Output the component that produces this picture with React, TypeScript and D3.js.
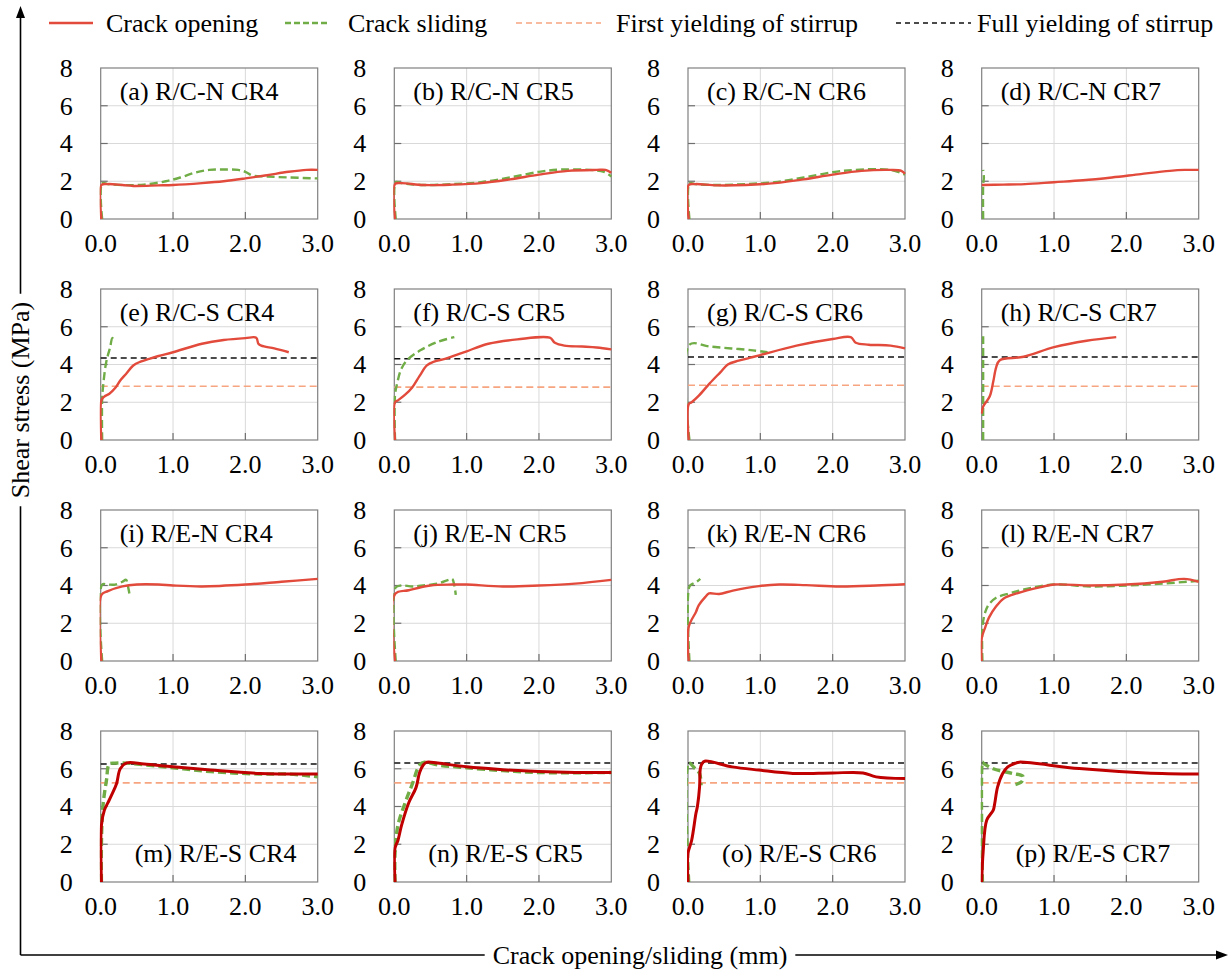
import React, { useEffect, useRef } from "react";
import * as d3 from "d3";

type P = [number, number];

const panelLabels = [
  "(a) R/C-N CR4", "(b) R/C-N CR5", "(c) R/C-N CR6", "(d) R/C-N CR7",
  "(e) R/C-S CR4", "(f) R/C-S CR5", "(g) R/C-S CR6", "(h) R/C-S CR7",
  "(i) R/E-N CR4", "(j) R/E-N CR5", "(k) R/E-N CR6", "(l) R/E-N CR7",
  "(m) R/E-S CR4", "(n) R/E-S CR5", "(o) R/E-S CR6", "(p) R/E-S CR7",
];

const xTicks = [0, 1, 2, 3];
const yTicks = [0, 2, 4, 6, 8];
const xTickLabels = ["0.0", "1.0", "2.0", "3.0"];
const yTickLabels = ["0", "2", "4", "6", "8"];

const legendLabels = ["Crack opening", "Crack sliding", "First yielding of stirrup", "Full yielding of stirrup"];

// yielding stress levels (MPa) per panel, null = not shown
const firstYield: (number | null)[] = [null, null, null, null, 2.85, 2.8, 2.9, 2.85, null, null, null, null, 5.25, 5.25, 5.25, 5.25];
const fullYield: (number | null)[] = [null, null, null, null, 4.35, 4.3, 4.4, 4.4, null, null, null, null, 6.25, 6.3, 6.3, 6.3];

const openingA: P[] = [[0.01,0],[0.01,1.8],[0.1,1.85],[0.3,1.8],[0.45,1.75],[0.8,1.78],[1.0,1.8],[1.4,1.9],[1.7,2.0],[2.0,2.15],[2.3,2.32],[2.6,2.5],[2.85,2.6],[3.0,2.6]];
const slidingA: P[] = [[0.02,0],[0.02,1.9],[0.1,1.85],[0.3,1.8],[0.6,1.82],[0.9,2.0],[1.1,2.2],[1.3,2.45],[1.5,2.6],[1.7,2.62],[1.9,2.6],[2.0,2.5],[2.1,2.3],[2.3,2.25],[2.6,2.2],[3.0,2.15]];
const openingB: P[] = [[0.01,0],[0.01,1.85],[0.1,1.9],[0.4,1.8],[0.8,1.82],[1.2,1.9],[1.6,2.1],[2.0,2.35],[2.4,2.55],[2.8,2.6],[2.92,2.6],[3.0,2.45]];
const slidingB: P[] = [[0.02,0],[0.02,1.95],[0.1,1.9],[0.4,1.8],[0.8,1.85],[1.2,1.95],[1.6,2.2],[2.0,2.5],[2.3,2.62],[2.7,2.6],[2.9,2.5],[3.0,2.25]];
const openingC: P[] = [[0.01,0],[0.01,1.8],[0.1,1.85],[0.4,1.78],[0.8,1.8],[1.2,1.9],[1.6,2.1],[2.0,2.35],[2.4,2.55],[2.8,2.6],[2.95,2.55],[3.0,2.4]];
const slidingC: P[] = [[0.02,0],[0.02,1.9],[0.1,1.85],[0.4,1.8],[0.8,1.85],[1.2,1.95],[1.6,2.2],[2.0,2.48],[2.3,2.6],[2.8,2.6],[3.0,2.35]];
const openingD: P[] = [[0,1.8],[0.3,1.82],[0.6,1.85],[1.0,1.95],[1.4,2.05],[1.8,2.2],[2.2,2.38],[2.6,2.55],[2.8,2.6],[3.0,2.6]];
const slidingD: P[] = [[0.02,0],[0.02,1.8],[0.03,2.2],[0.02,2.6]];

const openingE: P[] = [[0.01,0],[0.01,2.1],[0.05,2.3],[0.12,2.45],[0.2,2.75],[0.27,3.15],[0.35,3.5],[0.45,3.95],[0.55,4.15],[0.67,4.3],[0.8,4.45],[1.0,4.65],[1.4,5.1],[1.7,5.3],[2.0,5.4],[2.15,5.42],[2.18,5.1],[2.22,5.0],[2.4,4.85],[2.6,4.65]];
const slidingE: P[] = [[0.02,0],[0.02,2.2],[0.04,3.1],[0.07,4.0],[0.1,4.5],[0.13,4.9],[0.16,5.4],[0.18,5.3]];
const openingF: P[] = [[0.01,0],[0.01,2.0],[0.05,2.1],[0.15,2.4],[0.25,2.8],[0.35,3.4],[0.45,3.95],[0.55,4.15],[0.7,4.3],[0.85,4.5],[1.0,4.7],[1.3,5.1],[1.7,5.33],[2.15,5.42],[2.22,5.15],[2.35,5.0],[2.6,4.95],[2.8,4.9],[3.0,4.8]];
const slidingF: P[] = [[0.01,0],[0.01,2.4],[0.04,3.0],[0.09,3.7],[0.17,4.2],[0.36,4.75],[0.6,5.2],[0.83,5.45]];
const openingG: P[] = [[0.01,0],[0.01,1.9],[0.05,2.0],[0.15,2.35],[0.3,3.0],[0.45,3.6],[0.55,4.0],[0.7,4.2],[0.85,4.35],[1.0,4.5],[1.5,5.0],[2.0,5.35],[2.25,5.45],[2.32,5.15],[2.5,5.05],[2.8,5.0],[3.0,4.85]];
const slidingG: P[] = [[0.02,0],[0.02,5.05],[0.3,4.95],[0.6,4.85],[0.9,4.75],[1.1,4.65]];
const openingH: P[] = [[0,1.4],[0.02,1.77],[0.11,2.3],[0.16,3.1],[0.2,3.85],[0.25,4.23],[0.58,4.41],[1.0,4.92],[1.45,5.26],[1.86,5.45]];
const slidingH: P[] = [[0.02,0],[0.02,5.5]];

const openingI: P[] = [[0.01,0],[0.01,3.5],[0.1,3.7],[0.3,3.95],[0.5,4.05],[0.8,4.05],[1.0,4.0],[1.4,3.95],[2.0,4.05],[2.5,4.2],[3.0,4.35]];
const slidingI: P[] = [[0.02,0],[0.02,4.05],[0.1,4.05],[0.2,4.05],[0.3,4.2],[0.35,4.3],[0.38,3.9],[0.4,3.5]];
const openingJ: P[] = [[0.01,0],[0.01,3.55],[0.2,3.75],[0.5,4.0],[0.8,4.05],[1.0,4.05],[1.5,3.95],[2.0,4.0],[2.5,4.1],[3.0,4.3]];
const slidingJ: P[] = [[0.02,0],[0.02,3.9],[0.1,4.0],[0.25,3.95],[0.4,4.0],[0.6,4.1],[0.75,4.3],[0.8,4.35],[0.83,4.0],[0.85,3.5]];
const openingK: P[] = [[0.01,0],[0.01,1.8],[0.11,2.6],[0.15,2.96],[0.24,3.4],[0.29,3.58],[0.43,3.55],[0.62,3.73],[0.98,3.97],[1.26,4.05],[1.63,4.02],[2.1,3.95],[2.6,4.0],[3.0,4.07]];
const slidingK: P[] = [[0.02,0],[0.02,3.95],[0.07,4.1],[0.12,4.2],[0.17,4.35]];
const openingL: P[] = [[0,0],[0,1.2],[0.05,1.8],[0.1,2.3],[0.2,2.9],[0.3,3.3],[0.5,3.6],[0.8,3.9],[1.0,4.05],[1.5,4.0],[2.0,4.05],[2.5,4.2],[2.8,4.35],[3.0,4.2]];
const slidingL: P[] = [[0.01,0],[0.01,1.8],[0.05,2.6],[0.1,3.0],[0.2,3.35],[0.4,3.6],[0.6,3.8],[1.0,4.05],[1.5,3.95],[2.0,4.0],[2.5,4.1],[3.0,4.25]];

const openingM: P[] = [[0.01,0],[0.01,3.0],[0.05,3.8],[0.1,4.2],[0.15,4.6],[0.22,5.22],[0.27,6.0],[0.36,6.31],[0.6,6.25],[1.0,6.1],[1.52,5.93],[2.2,5.75],[3.0,5.72]];
const slidingM: P[] = [[0.01,0],[0.01,2.0],[0.03,3.98],[0.08,5.4],[0.12,6.25],[0.2,6.3],[0.35,6.3],[0.5,6.25],[1.0,6.05],[1.52,5.85],[2.2,5.72],[2.6,5.72],[3.0,5.57]];
const openingN: P[] = [[0.01,0],[0.01,1.8],[0.05,2.2],[0.1,3.0],[0.2,4.2],[0.3,5.0],[0.35,5.8],[0.4,6.2],[0.45,6.35],[0.6,6.3],[1.0,6.1],[1.5,5.95],[2.0,5.85],[2.5,5.8],[3.0,5.8]];
const slidingN: P[] = [[0.01,0],[0.01,1.5],[0.05,3.0],[0.15,4.2],[0.25,5.2],[0.35,6.2],[0.42,6.35],[0.6,6.2],[1.0,6.05],[1.5,5.9],[2.0,5.8],[3.0,5.8]];
const openingO: P[] = [[0,0],[0,1.52],[0.05,2.2],[0.11,3.64],[0.13,4.0],[0.16,5.04],[0.17,6.0],[0.19,6.25],[0.23,6.4],[0.61,6.1],[0.98,5.93],[1.45,5.75],[2.0,5.78],[2.42,5.78],[2.6,5.57],[3.0,5.48]];
const slidingO: P[] = [[0.01,0],[0.01,6.3],[0.1,6.0],[0.16,5.75],[0.18,5.13]];
const openingP: P[] = [[0,0],[0.02,1.6],[0.07,3.28],[0.16,3.81],[0.18,4.16],[0.22,5.04],[0.29,5.75],[0.36,6.1],[0.47,6.3],[0.52,6.35],[1.35,6.01],[2.27,5.78],[3.0,5.72]];
const slidingP: P[] = [[0.01,0],[0.01,6.35],[0.02,6.3],[0.16,6.0],[0.43,5.75],[0.57,5.6],[0.55,5.3],[0.43,5.13]];

const openingSeries = [openingA, openingB, openingC, openingD, openingE, openingF, openingG, openingH, openingI, openingJ, openingK, openingL, openingM, openingN, openingO, openingP];
const slidingSeries = [slidingA, slidingB, slidingC, slidingD, slidingE, slidingF, slidingG, slidingH, slidingI, slidingJ, slidingK, slidingL, slidingM, slidingN, slidingO, slidingP];

const FONT = "'Liberation Serif', 'Times New Roman', serif";
const RED = "#e24a3b";
const DARKRED = "#c00000";
const GREEN = "#70ad47";
const SALMON = "#f7a581";

export default function App() {
  const ref = useRef<SVGSVGElement | null>(null);

  useEffect(() => {
    const svg = d3.select(ref.current!);
    svg.selectAll("*").remove();

    const lefts = [100.7, 394.3, 688, 981.7];
    const tops = [68, 289, 510, 731];
    const W = 217, H = 151;

    const x = d3.scaleLinear().domain([0, 3]).range([0, W]);
    const y = d3.scaleLinear().domain([0, 8]).range([H, 0]);
    const line = d3.line<P>().x(d => x(d[0])).y(d => y(d[1])).curve(d3.curveCatmullRom.alpha(0.5));

    const defs = svg.append("defs");
    defs.append("clipPath").attr("id", "plotclip").append("rect")
      .attr("x", -1).attr("y", -1).attr("width", W + 2).attr("height", H + 2);

    panelLabels.forEach((label, i) => {
      const row = Math.floor(i / 4), col = i % 4;
      const g = svg.append("g").attr("transform", `translate(${lefts[col]},${tops[row]})`);
      const bottomRow = row === 3;

      // gridlines
      g.selectAll(".gx").data(xTicks.slice(1, -1)).enter().append("line")
        .attr("x1", d => x(d)).attr("x2", d => x(d)).attr("y1", 0).attr("y2", H)
        .attr("stroke", "#d9d9d9").attr("stroke-width", 1);
      g.selectAll(".gy").data(yTicks.slice(1, -1)).enter().append("line")
        .attr("x1", 0).attr("x2", W).attr("y1", d => y(d)).attr("y2", d => y(d))
        .attr("stroke", "#d9d9d9").attr("stroke-width", 1);

      // frame
      g.append("rect").attr("x", 0).attr("y", 0).attr("width", W).attr("height", H)
        .attr("fill", "none").attr("stroke", "#808080").attr("stroke-width", 1.2);

      // inner ticks
      g.selectAll(".tx").data(xTicks.slice(1, -1)).enter().append("line")
        .attr("x1", d => x(d)).attr("x2", d => x(d)).attr("y1", H).attr("y2", H - 7)
        .attr("stroke", "#6f6f6f").attr("stroke-width", 1.2);
      g.selectAll(".ty").data(yTicks.slice(1, -1)).enter().append("line")
        .attr("x1", 0).attr("x2", 7).attr("y1", d => y(d)).attr("y2", d => y(d))
        .attr("stroke", "#6f6f6f").attr("stroke-width", 1.2);

      // tick labels
      g.selectAll(".lx").data(xTicks).enter().append("text")
        .attr("x", d => x(d)).attr("y", H + 33)
        .attr("text-anchor", "middle").attr("font-family", FONT).attr("font-size", 26)
        .text((d, k) => xTickLabels[k]);
      g.selectAll(".ly").data(yTicks).enter().append("text")
        .attr("x", -28).attr("y", d => y(d)).attr("dy", "0.34em")
        .attr("text-anchor", "end").attr("font-family", FONT).attr("font-size", 26)
        .text((d, k) => yTickLabels[k]);

      const pg = g.append("g").attr("clip-path", "url(#plotclip)");

      const fy = firstYield[i], uy = fullYield[i];
      if (fy !== null) {
        pg.append("line").attr("x1", 0).attr("x2", W).attr("y1", y(fy)).attr("y2", y(fy))
          .attr("stroke", SALMON).attr("stroke-width", 1.6).attr("stroke-dasharray", "7,4");
      }
      if (uy !== null) {
        pg.append("line").attr("x1", 0).attr("x2", W).attr("y1", y(uy)).attr("y2", y(uy))
          .attr("stroke", "#111").attr("stroke-width", 1.5).attr("stroke-dasharray", "6,4");
      }

      pg.append("path").attr("d", line(slidingSeries[i])!)
        .attr("fill", "none").attr("stroke", GREEN)
        .attr("stroke-width", bottomRow ? 3.4 : 2.4).attr("stroke-dasharray", "8,4");
      pg.append("path").attr("d", line(openingSeries[i])!)
        .attr("fill", "none").attr("stroke", bottomRow ? DARKRED : RED)
        .attr("stroke-width", bottomRow ? 3 : 2.4).attr("stroke-linejoin", "round");

      // panel label
      g.append("text")
        .attr("x", bottomRow ? 34 : 19)
        .attr("y", bottomRow ? H - 20 : 32)
        .attr("font-family", FONT).attr("font-size", 26).attr("fill", "#000")
        .text(label);
    });

    // legend
    const lg = svg.append("g");
    const legY = 23;
    const items = [
      { x1: 49, x2: 93, tx: 106, color: RED, dash: null as string | null, w: 2.6 },
      { x1: 285, x2: 328, tx: 348, color: GREEN, dash: "6,3", w: 2.6 },
      { x1: 516, x2: 601, tx: 616, color: SALMON, dash: "6,4", w: 1.6 },
      { x1: 896, x2: 971, tx: 977, color: "#111", dash: "5,4", w: 1.5 },
    ];
    items.forEach((it, k) => {
      const l = lg.append("line").attr("x1", it.x1).attr("x2", it.x2).attr("y1", legY).attr("y2", legY)
        .attr("stroke", it.color).attr("stroke-width", it.w);
      if (it.dash) l.attr("stroke-dasharray", it.dash);
      lg.append("text").attr("x", it.tx).attr("y", legY + 9)
        .attr("font-family", FONT).attr("font-size", 26).text(legendLabels[k]);
    });

    // axis titles with arrows
    const axX = 20.5, axY = 955;
    const yTitleC = 400;
    const yt = svg.append("text")
      .attr("transform", `translate(${axX},${yTitleC}) rotate(-90)`)
      .attr("text-anchor", "middle").attr("dominant-baseline", "central")
      .attr("font-family", FONT).attr("font-size", 26).text("Shear stress (MPa)");
    const ylen = (yt.node() as SVGTextElement).getComputedTextLength();
    const xTitleC = 640;
    const xt = svg.append("text")
      .attr("x", xTitleC).attr("y", axY)
      .attr("text-anchor", "middle").attr("dominant-baseline", "central")
      .attr("font-family", FONT).attr("font-size", 26).text("Crack opening/sliding (mm)");
    const xlen = (xt.node() as SVGTextElement).getComputedTextLength();

    const ax = svg.append("g").attr("stroke", "#000").attr("stroke-width", 1.6);
    ax.append("line").attr("x1", axX).attr("x2", axX).attr("y1", axY).attr("y2", yTitleC + ylen / 2 + 8);
    ax.append("line").attr("x1", axX).attr("x2", axX).attr("y1", yTitleC - ylen / 2 - 8).attr("y2", 16);
    ax.append("line").attr("x1", axX).attr("x2", xTitleC - xlen / 2 - 8).attr("y1", axY).attr("y2", axY);
    ax.append("line").attr("x1", xTitleC + xlen / 2 + 8).attr("x2", 1218).attr("y1", axY).attr("y2", axY);
    svg.append("path").attr("d", `M${axX},6 L${axX - 4.5},18 L${axX + 4.5},18 Z`).attr("fill", "#000");
    svg.append("path").attr("d", `M1228,${axY} L1216,${axY - 4.5} L1216,${axY + 4.5} Z`).attr("fill", "#000");
  }, []);

  return (
    <svg ref={ref} width={1232} height={972}
      style={{ position: "absolute", left: 0, top: 0, display: "block", background: "#fff" }} />
  );
}
